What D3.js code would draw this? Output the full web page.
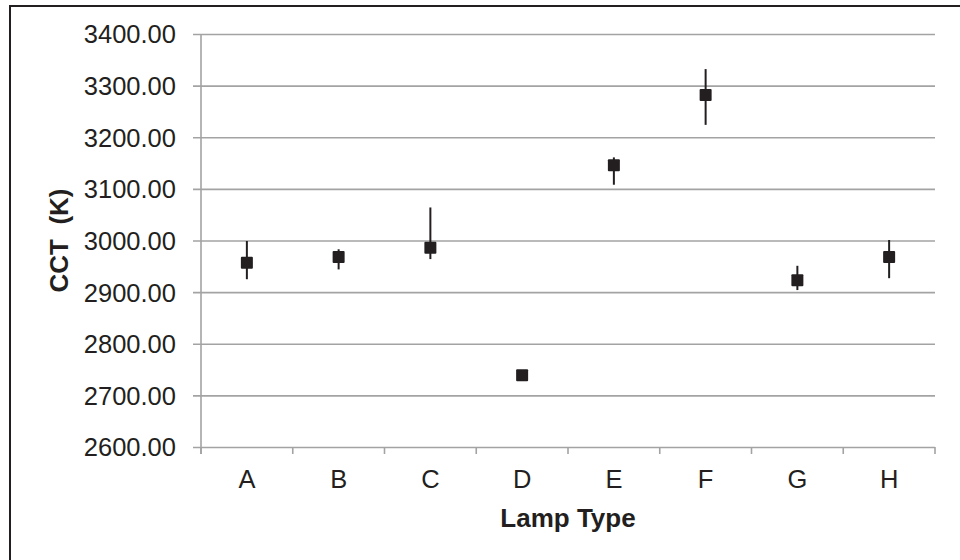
<!DOCTYPE html>
<html>
<head>
<meta charset="utf-8">
<script src="https://cdn.jsdelivr.net/npm/d3@7"></script>
<style>
  html, body { margin: 0; padding: 0; background: #fff; }
  svg { display: block; font-family: "Liberation Sans", Arial, sans-serif; }
</style>
</head>
<body>
<svg id="chart" width="960" height="560"></svg>
<script>
// Lamp types and their correlated colour temperature (mean with error range)
const lampTypes = ["A", "B", "C", "D", "E", "F", "G", "H"];
const cctMean   = [2957, 2968, 2986, 2739, 3146, 3282, 2923, 2968];
const errPlus   = [42, 15, 78, 4, 15, 50, 28, 33];
const errMinus  = [32, 24, 22, 4, 38, 58, 19, 41];
const yTicks    = [2600, 2700, 2800, 2900, 3000, 3100, 3200, 3300, 3400];

const ink = "#231f20";
const grid = "#a3a3a3";

const svg = d3.select("#chart");
const plot = { left: 201, right: 935, top: 34, bottom: 447 };

// Outer chart border
svg.append("rect")
  .attr("x", 10).attr("y", 6)
  .attr("width", 1000).attr("height", 1000)
  .attr("fill", "none")
  .attr("stroke", ink)
  .attr("stroke-width", 2);

const x = d3.scaleBand()
  .domain(lampTypes)
  .range([plot.left, plot.right])
  .padding(0);

const y = d3.scaleLinear()
  .domain([2600, 3400])
  .range([plot.bottom, plot.top]);

// Horizontal gridlines with tick labels
const yAxis = d3.axisLeft(y)
  .tickValues(yTicks)
  .tickFormat(d3.format(".2f"))
  .tickSize(-(plot.right - plot.left))
  .tickPadding(0);

const gy = svg.append("g")
  .attr("transform", `translate(${plot.left},0)`)
  .call(yAxis);
gy.select(".domain").remove();
gy.selectAll(".tick line")
  .attr("x1", -8)
  .attr("stroke", grid)
  .attr("stroke-width", 1.6);
gy.selectAll(".tick text")
  .attr("x", -25)
  .attr("dy", "0.35em")
  .attr("fill", ink)
  .style("font-size", "25.5px");

// Vertical axis line
svg.append("line")
  .attr("x1", plot.left).attr("x2", plot.left)
  .attr("y1", plot.top).attr("y2", plot.bottom + 7)
  .attr("stroke", grid)
  .attr("stroke-width", 1.6);

// Category axis
const xAxis = d3.axisBottom(x).tickSize(0).tickPadding(0);
const gx = svg.append("g")
  .attr("transform", `translate(0,${plot.bottom})`)
  .call(xAxis);
gx.select(".domain").remove();
gx.selectAll(".tick text")
  .attr("y", 41)
  .attr("dy", 0)
  .attr("fill", ink)
  .style("font-size", "25.5px");

// Category boundary ticks below the axis
const bounds = lampTypes.map(d => x(d)).concat([x(lampTypes[lampTypes.length - 1]) + x.bandwidth()]);
svg.append("g").selectAll("line")
  .data(bounds)
  .join("line")
  .attr("x1", d => d).attr("x2", d => d)
  .attr("y1", plot.bottom).attr("y2", plot.bottom + 7)
  .attr("stroke", grid)
  .attr("stroke-width", 1.6);

// Error bars
const cx = d => x(d) + x.bandwidth() / 2;
svg.append("g").selectAll("line")
  .data(lampTypes)
  .join("line")
  .attr("x1", cx).attr("x2", cx)
  .attr("y1", (d, i) => y(cctMean[i] + errPlus[i]))
  .attr("y2", (d, i) => y(cctMean[i] - errMinus[i]))
  .attr("stroke", ink)
  .attr("stroke-width", 2);

// Square markers at the mean
const m = 12;
svg.append("g").selectAll("rect")
  .data(lampTypes)
  .join("rect")
  .attr("x", d => cx(d) - m / 2)
  .attr("y", (d, i) => y(cctMean[i]) - m / 2)
  .attr("width", m).attr("height", m)
  .attr("rx", 1)
  .attr("fill", ink);

// Axis titles
svg.append("text")
  .attr("x", (plot.left + plot.right) / 2)
  .attr("y", 527)
  .attr("text-anchor", "middle")
  .attr("fill", ink)
  .style("font-size", "26px")
  .style("font-weight", "bold")
  .text("Lamp Type");

svg.append("text")
  .attr("transform", `translate(68,${(plot.top + plot.bottom) / 2}) rotate(-90)`)
  .attr("text-anchor", "middle")
  .attr("fill", ink)
  .style("font-size", "26px")
  .style("font-weight", "bold")
  .style("white-space", "pre")
  .text("CCT  (K)");
</script>
</body>
</html>
